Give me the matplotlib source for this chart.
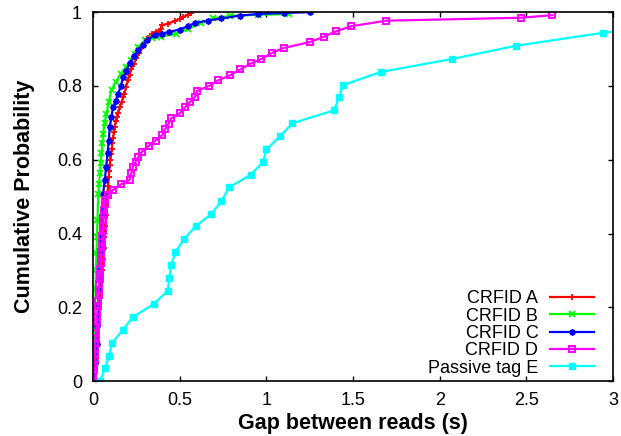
"""
Cumulative distribution of the gap between successive reads for each tag.
"""

import matplotlib

matplotlib.use("Agg")
import matplotlib.pyplot as plt
from matplotlib.ticker import FuncFormatter

plt.rcParams["font.family"] = ["Liberation Sans", "DejaVu Sans"]

# Data (gap in seconds, cumulative probability)
crfid_a_x = [0.0, 0.005, 0.01, 0.015, 0.02, 0.025, 0.03, 0.035, 0.04, 0.045,
             0.05, 0.055, 0.06, 0.065, 0.07, 0.075, 0.08, 0.087, 0.09, 0.093,
             0.096, 0.1, 0.104, 0.108, 0.11, 0.115, 0.12, 0.125, 0.13, 0.137,
             0.145, 0.154, 0.165, 0.175, 0.18, 0.19, 0.2, 0.21, 0.22, 0.235,
             0.25, 0.265, 0.28, 0.3, 0.31, 0.33, 0.34, 0.36, 0.38, 0.39,
             0.40, 0.43, 0.47, 0.50, 0.52, 0.545, 0.565]
crfid_a_y = [0.0, 0.03, 0.06, 0.09, 0.12, 0.15, 0.18, 0.21, 0.24, 0.27,
             0.30, 0.33, 0.36, 0.39, 0.42, 0.45, 0.50, 0.53, 0.553, 0.57,
             0.585, 0.60, 0.615, 0.63, 0.645, 0.66, 0.675, 0.69, 0.705, 0.716,
             0.728, 0.743, 0.757, 0.77, 0.779, 0.797, 0.816, 0.83, 0.845, 0.86,
             0.875, 0.89, 0.905, 0.92, 0.928, 0.935, 0.94, 0.945, 0.95, 0.955,
             0.965, 0.969, 0.976, 0.982, 0.987, 0.993, 0.998]

crfid_b_x = [0.0, 0.005, 0.008, 0.01, 0.012, 0.014, 0.016, 0.019, 0.022, 0.025,
             0.029, 0.034, 0.039, 0.044, 0.048, 0.053, 0.058, 0.066, 0.077, 0.09,
             0.106, 0.13, 0.16, 0.19, 0.22, 0.24, 0.26, 0.30, 0.34, 0.39,
             0.48, 0.55, 0.62, 0.69, 0.79, 0.95, 1.13]
crfid_b_y = [0.0, 0.05, 0.1, 0.15, 0.2, 0.25, 0.3, 0.346, 0.39, 0.436,
             0.508, 0.535, 0.563, 0.59, 0.617, 0.645, 0.671, 0.70, 0.725, 0.757,
             0.789, 0.81, 0.833, 0.852, 0.87, 0.888, 0.906, 0.924, 0.93, 0.933,
             0.942, 0.955, 0.97, 0.983, 0.99, 0.993, 0.995]

crfid_c_x = [0.0, 0.01, 0.02, 0.025, 0.03, 0.035, 0.038, 0.042, 0.046, 0.05,
             0.058, 0.067, 0.075, 0.083, 0.09, 0.096, 0.105, 0.115, 0.13, 0.144,
             0.16, 0.173, 0.19, 0.21, 0.235, 0.26, 0.285, 0.31, 0.355, 0.40,
             0.44, 0.50, 0.55, 0.59, 0.66, 0.74, 0.85, 0.95, 1.1, 1.25]
crfid_c_y = [0.0, 0.05, 0.1, 0.15, 0.2, 0.25, 0.3, 0.35, 0.4, 0.45,
             0.508, 0.545, 0.58, 0.617, 0.65, 0.689, 0.715, 0.743, 0.76, 0.779,
             0.80, 0.824, 0.84, 0.861, 0.88, 0.897, 0.912, 0.924, 0.938, 0.942,
             0.947, 0.953, 0.963, 0.971, 0.977, 0.983, 0.991, 0.995, 0.998, 1.0]

crfid_d_x = [0.0, 0.002, 0.004, 0.006, 0.008, 0.010, 0.012, 0.013, 0.015, 0.017,
             0.019, 0.021, 0.023, 0.025, 0.027, 0.029, 0.031, 0.033, 0.035, 0.037,
             0.039, 0.041, 0.043, 0.045, 0.047, 0.049, 0.051, 0.053, 0.055, 0.057,
             0.059, 0.061, 0.063, 0.066, 0.069, 0.087, 0.115, 0.163, 0.21, 0.22,
             0.23, 0.245, 0.26, 0.28, 0.32, 0.36, 0.40, 0.415, 0.435, 0.45,
             0.50, 0.53, 0.56, 0.59, 0.60, 0.67, 0.72, 0.79, 0.85, 0.91,
             0.97, 1.03, 1.10, 1.25, 1.33, 1.40, 1.49, 1.69, 2.47, 2.65]
crfid_d_y = [0.0, 0.015, 0.03, 0.044, 0.059, 0.073, 0.088, 0.102, 0.117, 0.131,
             0.146, 0.160, 0.175, 0.189, 0.204, 0.218, 0.233, 0.247, 0.262, 0.276,
             0.291, 0.305, 0.320, 0.334, 0.349, 0.363, 0.378, 0.392, 0.407, 0.421,
             0.436, 0.450, 0.465, 0.479, 0.492, 0.505, 0.518, 0.534, 0.545, 0.563,
             0.581, 0.594, 0.608, 0.621, 0.637, 0.652, 0.667, 0.683, 0.697, 0.712,
             0.726, 0.742, 0.757, 0.771, 0.787, 0.80, 0.815, 0.829, 0.845, 0.861,
             0.873, 0.889, 0.903, 0.919, 0.933, 0.948, 0.962, 0.977, 0.985, 0.992]

passive_e_x = [0.04, 0.07, 0.092, 0.11, 0.17, 0.23, 0.35, 0.43, 0.44, 0.45,
               0.475, 0.525, 0.594, 0.68, 0.74, 0.785, 0.91, 0.98, 1.0, 1.08,
               1.15, 1.39, 1.42, 1.44, 1.66, 2.07, 2.44, 2.94, 3.6]
passive_e_y = [0.0, 0.036, 0.069, 0.104, 0.138, 0.174, 0.209, 0.245, 0.28, 0.314,
               0.35, 0.385, 0.421, 0.452, 0.488, 0.525, 0.56, 0.593, 0.628, 0.664,
               0.699, 0.734, 0.77, 0.802, 0.838, 0.873, 0.909, 0.944, 0.979]

labels = ["CRFID A", "CRFID B", "CRFID C", "CRFID D", "Passive tag E"]

# Plotting
fg = plt.figure(figsize=(6.21, 4.36), dpi=100)
ax = fg.add_axes([0.150, 0.126, 0.837, 0.846])

lw = 1.6
ax.plot(crfid_a_x, crfid_a_y, color="#ff0000", lw=lw, marker="+",
        ms=4.5, mew=1.3, label=labels[0])
ax.plot(crfid_b_x, crfid_b_y, color="#00ff00", lw=lw, marker="x",
        ms=4, mew=1.3, label=labels[1])
ax.plot(crfid_c_x, crfid_c_y, color="#0000ff", lw=lw, marker=(8, 2, 0),
        ms=4.5, mew=1.2, label=labels[2])
ax.plot(crfid_d_x, crfid_d_y, color="#ff00ff", lw=lw, marker="s",
        ms=4.5, mew=1.4, mfc="none", label=labels[3])
ax.plot(passive_e_x, passive_e_y, color="#00ffff", lw=lw, marker="s",
        ms=4.2, label=labels[4])

ax.set_xlim(0, 3)
ax.set_ylim(0, 1)
ax.set_xticks([0, 0.5, 1, 1.5, 2, 2.5, 3])
ax.set_yticks([0, 0.2, 0.4, 0.6, 0.8, 1])
fmt = FuncFormatter(lambda v, pos: f"{v:g}")
ax.xaxis.set_major_formatter(fmt)
ax.yaxis.set_major_formatter(fmt)
ax.tick_params(direction="in", length=3.5, width=1, labelsize=13,
               top=True, right=True, pad=8)
for sp in ax.spines.values():
    sp.set_linewidth(1.2)

ax.set_xlabel("Gap between reads (s)", fontsize=15.5, fontweight="bold",
              labelpad=3)
ax.set_ylabel("Cumulative Probability", fontsize=15.5, fontweight="bold",
              labelpad=16)

ax.legend(loc="lower right", frameon=False, markerfirst=False,
          fontsize=13, handlelength=2.45, handletextpad=0.65,
          labelspacing=0.02, borderaxespad=0.0, bbox_to_anchor=(0.978, -0.008))

fg.savefig("out.png", dpi=100)
